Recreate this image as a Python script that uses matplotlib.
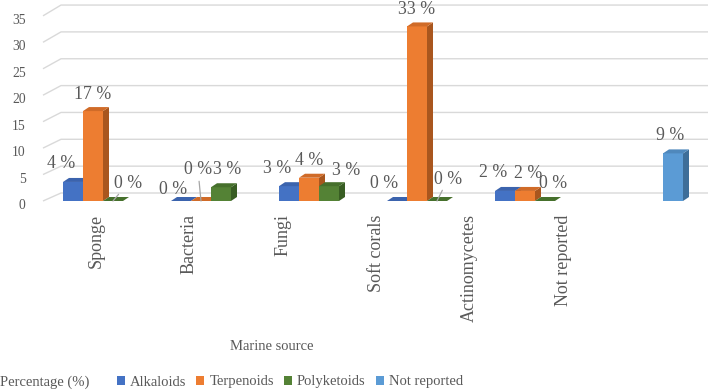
import numpy as np
import matplotlib
matplotlib.use("Agg")
import matplotlib.pyplot as plt
import matplotlib.transforms as mtransforms
from matplotlib.patches import Polygon, Patch

# ---------------- data ----------------
categories = ["Sponge", "Bacteria", "Fungi", "Soft corals", "Actinomycetes", "Not reported"]
series_names = ["Alkaloids", "Terpenoids", "Polyketoids", "Not reported"]
nan = np.nan
alkaloids   = [3.6, 0.0, 2.8, 0.0, 1.9, nan]
terpenoids  = [17.0, 0.0, 4.4, 33.0, 1.9, nan]
polyketoids = [0.0, 2.6, 2.8, 0.0, 0.0, nan]
not_reported = [nan, nan, nan, nan, nan, 9.0]
label_texts = [
    ["4 %", "0 %", "3 %", "0 %", "2 %", None],
    ["17 %", "0 %", "4 %", "33 %", "2 %", None],
    ["0 %", "3 %", "3 %", "0 %", "0 %", None],
    [None, None, None, None, None, "9 %"],
]
yticks = [0, 5, 10, 15, 20, 25, 30, 35]

# ---------------- style ----------------
front_cols = ["#4472C4", "#ED7D31", "#548235", "#5B9BD5"]
top_cols   = ["#3B63AD", "#D06B28", "#46702C", "#4F88BC"]
side_cols  = ["#2F5597", "#A9561E", "#385D23", "#3E6E99"]
txt = "#595959"
grid_c = "#D9D9D9"
FONT = "Liberation Serif"

W, H = 708, 392
PX_X = 108.0   # px per category
PX_Y = 5.29    # px per unit (front plane)
X0 = 63.0      # px of first bar
Y0 = 201.0     # px of front zero
fig = plt.figure(figsize=(W / 100, H / 100), dpi=100)
ax = fig.add_axes([43 / W, 1 - Y0 / H, (W - 43) / W, Y0 / H])
ax.set_xlim(-(X0 - 43) / PX_X, (W - X0) / PX_X)
ax.set_ylim(0, Y0 / PX_Y)
for s in ax.spines.values():
    s.set_visible(False)

bw = 20 / PX_X
dx = 6 / PX_X
dy = 4 / PX_Y

# back-plane gridlines with slanted left edges
xl = ax.get_xlim()
for v in yticks:
    yb = (Y0 - (193 - 5.37 * v)) / PX_Y
    xs = -(X0 - 61) / PX_X
    ax.plot([xl[0], xs, xl[1]], [v, yb, yb], color=grid_c, lw=1.0, zorder=0,
            solid_capstyle="butt", clip_on=False)

ax.set_yticks(yticks)
ax.set_yticklabels([str(t) for t in yticks], fontsize=9.8, color=txt, family=FONT)
ax.tick_params(axis="y", length=0, pad=12.5)
shift = mtransforms.ScaledTranslation(0, -3 / 100, fig.dpi_scale_trans)
for lbl in ax.get_yticklabels():
    lbl.set_transform(lbl.get_transform() + shift)

tick_px = [96 + 93.4 * i for i in range(len(categories))]
ax.set_xticks([(p - X0) / PX_X for p in tick_px])
ax.set_xticklabels(categories, rotation=90, va="top", ha="center",
                   fontsize=13.0, color=txt, family=FONT)
ax.tick_params(axis="x", length=0, pad=9.5)

all_series = [alkaloids, terpenoids, polyketoids, not_reported]
# label offsets (px) per series, with a few specific tweaks
base_off = [(-12, 18), (0, 17), (12, 17), (-3, 18)]
special_off = {(2, 0): (15, 18), (0, 1): (-8, 12), (1, 1): (-3, 31), (2, 1): (6, 18),
               (2, 2): (17, 16), (2, 3): (11, 22), (1, 4): (3, 17), (2, 4): (8, 17),
               (0, 3): (-13, 17)}
leaders = {(2, 0), (1, 1), (2, 3)}

z = 2
for c in range(len(categories)):
    for s, vals in enumerate(all_series):
        v = vals[c]
        if np.isnan(v):
            continue
        x0 = c + s * bw
        ax.bar(x0, v, width=bw, align="edge", color=front_cols[s], lw=0, zorder=z)
        side = Polygon([(x0 + bw, 0), (x0 + bw + dx, dy), (x0 + bw + dx, v + dy), (x0 + bw, v)],
                       closed=True, fc=side_cols[s], lw=0, zorder=z)
        top = Polygon([(x0, v), (x0 + dx, v + dy), (x0 + bw + dx, v + dy), (x0 + bw, v)],
                      closed=True, fc=top_cols[s], lw=0, zorder=z)
        ax.add_patch(side)
        ax.add_patch(top)
        z += 1
        lab = label_texts[s][c]
        if lab:
            ox, oy = special_off.get((s, c), base_off[s])
            kw = {}
            if (s, c) in leaders:
                kw["arrowprops"] = dict(arrowstyle="-", color="#A6A6A6", lw=0.9,
                                        shrinkA=0, shrinkB=0)
            ax.annotate(lab, xy=(x0 + bw / 2, v), xytext=(ox * 0.72, oy * 0.72),
                        textcoords="offset points", ha="center", va="center",
                        fontsize=12.8, color=txt, family=FONT, zorder=50, **kw)

fig.text(272 / W, 1 - 346 / H, "Marine source", ha="center", va="center",
         fontsize=10.5, color=txt, family=FONT)
fig.text(0 / W, 1 - 382 / H, "Percentage (%)", ha="left", va="center",
         fontsize=10.5, color=txt, family=FONT)

handles = [Patch(facecolor=front_cols[i], lw=0) for i in range(4)]
leg = fig.legend(handles, series_names, loc="center left", bbox_to_anchor=(117 / W, 1 - 382 / H),
                 ncol=4, frameon=False, handlelength=0.55, handleheight=0.55,
                 handletextpad=0.35, columnspacing=0.68, borderaxespad=0, borderpad=0,
                 prop={"family": FONT, "size": 10.5})
for t in leg.get_texts():
    t.set_color(txt)

fig.savefig("out.png", dpi=100)
